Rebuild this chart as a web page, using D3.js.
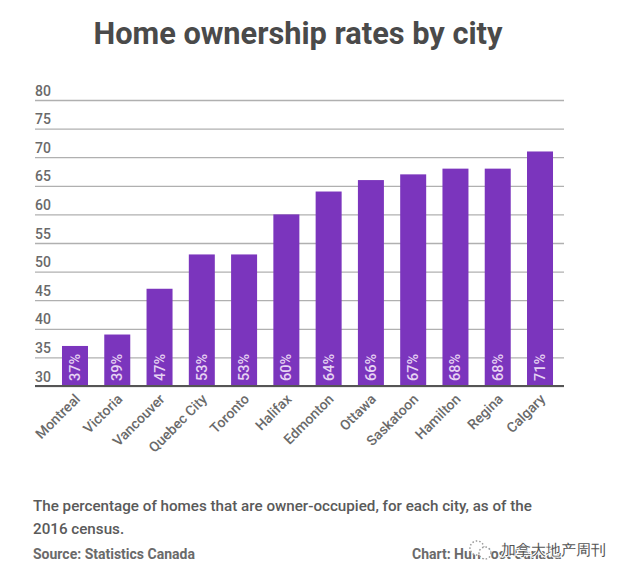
<!DOCTYPE html>
<html>
<head>
<meta charset="utf-8">
<script src="https://cdn.jsdelivr.net/npm/d3@7"></script>
<style>
html, body { margin: 0; padding: 0; background: #fff; }
text { font-family: Roboto, sans-serif; }
</style>
</head>
<body>
<svg id="chart" width="624" height="577"></svg>
<script>
var cities = ["Montreal", "Victoria", "Vancouver", "Quebec City", "Toronto", "Halifax",
    "Edmonton", "Ottawa", "Saskatoon", "Hamilton", "Regina", "Calgary"];
var rates = [37, 39, 47, 53, 53, 60, 64, 66, 67, 68, 68, 71];
var yTicks = [30, 35, 40, 45, 50, 55, 60, 65, 70, 75, 80];
var noteLines = ["The percentage of homes that are owner-occupied, for each city, as of the", "2016 census."];

var svg = d3.select("#chart");

var x = d3.scaleBand().domain(cities).range([51, 564]).paddingInner(0.385).paddingOuter(0.26);
var y = d3.scaleLinear().domain([30, 80]).range([386, 100]);

svg.append("text")
    .attr("x", 298).attr("y", 44)
    .attr("text-anchor", "middle")
    .attr("font-size", 31).attr("font-weight", 700)
    .attr("fill", "#4a4a4a")
    .attr("textLength", 409).attr("lengthAdjust", "spacingAndGlyphs")
    .text("Home ownership rates by city");

// gridlines, the axis is only used for its ticks and labels
var yAxis = svg.append("g")
    .attr("transform", "translate(35,0)")
    .call(d3.axisRight(y).tickValues(yTicks).tickSize(529).tickFormat(d3.format("d")));
yAxis.select(".domain").remove();
yAxis.selectAll("line")
    .attr("stroke", "#b0b0b0")
    .attr("stroke-width", 1.3);
yAxis.selectAll("text")
    .attr("x", 0).attr("y", -5).attr("dy", 0)
    .attr("text-anchor", "start")
    .attr("font-size", 14).attr("font-weight", 500)
    .attr("fill", "#6a6a6a");

svg.selectAll("rect.bar")
    .data(rates)
    .join("rect")
    .attr("class", "bar")
    .attr("x", function(d, i) { return x(cities[i]); })
    .attr("y", function(d) { return y(d); })
    .attr("width", x.bandwidth())
    .attr("height", function(d) { return y(30) - y(d); })
    .attr("fill", "#7b35bd");

svg.selectAll("text.value")
    .data(rates)
    .join("text")
    .attr("class", "value")
    .attr("transform", function(d, i) {
        return "translate(" + (x(cities[i]) + x.bandwidth() / 2 + 5) + "," + (y(30) - 5) + ") rotate(-90)";
    })
    .attr("font-size", 14.5).attr("font-weight", 500)
    .attr("fill", "#e6d3f3")
    .text(function(d) { return d + "%"; });

// baseline goes over the bars
svg.append("line")
    .attr("x1", 35).attr("x2", 564)
    .attr("y1", y(30)).attr("y2", y(30))
    .attr("stroke", "#555").attr("stroke-width", 2);

svg.selectAll("text.city")
    .data(cities)
    .join("text")
    .attr("class", "city")
    .attr("transform", function(d) {
        return "translate(" + (x(d) + x.bandwidth() / 2 + 6) + ",400) rotate(-45)";
    })
    .attr("text-anchor", "end")
    .attr("font-size", 14).attr("font-weight", 500)
    .attr("fill", "#6a6a6a")
    .text(function(d) { return d; });

svg.selectAll("text.note")
    .data(noteLines)
    .join("text")
    .attr("class", "note")
    .attr("x", 33)
    .attr("y", function(d, i) { return 511 + i * 23; })
    .attr("font-size", 15.2).attr("font-weight", 500)
    .attr("fill", "#5a5a5a")
    .text(function(d) { return d; });

svg.append("text")
    .attr("x", 33).attr("y", 559)
    .attr("font-size", 14).attr("font-weight", 700)
    .attr("fill", "#6a6a6a")
    .text("Source: Statistics Canada");

svg.append("text")
    .attr("x", 412).attr("y", 559)
    .attr("font-size", 14).attr("font-weight", 700)
    .attr("fill", "#6a6a6a")
    .text("Chart: HuffPost Canada");

// watermark sits on top of the credit, same as the source image
var mark = svg.append("g").attr("fill", "#fff").attr("stroke", "#999").attr("stroke-width", 1.5).attr("stroke-dasharray", "1.5 2");
mark.append("circle").attr("cx", 477).attr("cy", 548).attr("r", 7);
mark.append("circle").attr("cx", 485).attr("cy", 553).attr("r", 6);

svg.append("text")
    .attr("x", 501).attr("y", 555)
    .attr("font-family", "Noto Sans CJK SC")
    .attr("font-size", 14.5)
    .attr("fill", "#555")
    .attr("stroke", "#fff").attr("stroke-width", 2).attr("paint-order", "stroke")
    .text("加拿大地产周刊");
</script>
</body>
</html>
